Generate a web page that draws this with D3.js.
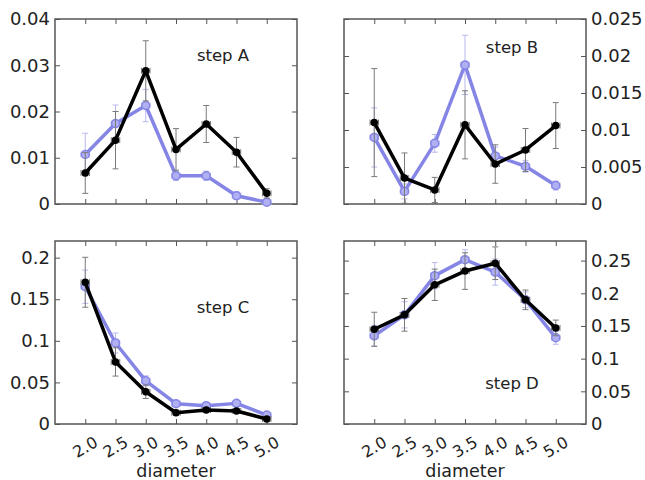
<!DOCTYPE html>
<html><head><meta charset="utf-8">
<script src="https://cdn.jsdelivr.net/npm/d3@7"></script>
<style>body{margin:0;background:#fff}svg{display:block}</style>
</head><body>
<script>
const diameters = [2.0, 2.5, 3.0, 3.5, 4.0, 4.5, 5.0];
const xTickLabels = ["2.0","2.5","3.0","3.5","4.0","4.5","5.0"];

const blackA = [0.0067, 0.0138, 0.0288, 0.0118, 0.0173, 0.0112, 0.0023];
const blackAErr = [0.0044, 0.0062, 0.0065, 0.0045, 0.0040, 0.0032, 0.0010];
const blueA = [0.0107, 0.0174, 0.0213, 0.0061, 0.0061, 0.0018, 0.0004];
const blueAErr = [0.0046, 0.0040, 0.0035, 0.0010, 0.0010, 0.0008, 0.0005];

const blackB = [0.0110, 0.0035, 0.0019, 0.0107, 0.0054, 0.0073, 0.0106];
const blackBErr = [0.0073, 0.0034, 0.0017, 0.0046, 0.0026, 0.0029, 0.0031];
const blueB = [0.0090, 0.0017, 0.0082, 0.0188, 0.0065, 0.0051, 0.0025];
const blueBErr = [0.0040, 0.0010, 0.0012, 0.0040, 0.0012, 0.0008, 0.0006];

const blackC = [0.1704, 0.0746, 0.0387, 0.0136, 0.0168, 0.0156, 0.0060];
const blackCErr = [0.0300, 0.0170, 0.0080, 0.0030, 0.0030, 0.0030, 0.0025];
const blueC = [0.1650, 0.0974, 0.0519, 0.0244, 0.0220, 0.0248, 0.0108];
const blueCErr = [0.0200, 0.0120, 0.0060, 0.0030, 0.0030, 0.0030, 0.0025];

const blackD = [0.145, 0.167, 0.213, 0.234, 0.246, 0.190, 0.147];
const blackDErr = [0.026, 0.025, 0.024, 0.028, 0.025, 0.015, 0.012];
const blueD = [0.135, 0.167, 0.227, 0.2515, 0.2325, 0.190, 0.132];
const blueDErr = [0.016, 0.020, 0.020, 0.015, 0.020, 0.012, 0.010];

const xErr = 0.07;

const ticksA = [0, 0.01, 0.02, 0.03, 0.04];
const ticksB = [0, 0.005, 0.01, 0.015, 0.02, 0.025];
const ticksC = [0, 0.05, 0.1, 0.15, 0.2];
const ticksD = [0, 0.05, 0.1, 0.15, 0.2, 0.25];

const panels = [
  {name:"step A", black:blackA, blackErr:blackAErr, blue:blueA, blueErr:blueAErr, ymax:0.04, ticks:ticksA,
   box:[55,19,297,204], side:"left", label:[223,61], xlabels:false},
  {name:"step B", black:blackB, blackErr:blackBErr, blue:blueB, blueErr:blueBErr, ymax:0.025, ticks:ticksB,
   box:[344,19,586,204], side:"right", label:[512,53], xlabels:false},
  {name:"step C", black:blackC, blackErr:blackCErr, blue:blueC, blueErr:blueCErr, ymax:0.22, ticks:ticksC,
   box:[55,241,297,424], side:"left", label:[223,313], xlabels:true},
  {name:"step D", black:blackD, blackErr:blackDErr, blue:blueD, blueErr:blueDErr, ymax:0.28, ticks:ticksD,
   box:[344,241,586,424], side:"right", label:[512,389], xlabels:true}
];

const W = 645, H = 480;
const svg = d3.select("body").append("svg").attr("width", W).attr("height", H)
  .style("font-family", "'DejaVu Sans', Verdana, sans-serif");

const fmt = v => v === 0 ? "0" : d3.format("~g")(v);
const blueCol = "#8585e6";
const blueFill = "#b0b0f2";
const blueErrCol = "#b8b8ee";
const errCol = "#7a7a7a";
const frameCol = "#555";

panels.forEach(p => {
  const [x0,y0,x1,y1] = p.box;
  const x = d3.scaleLinear().domain([1.5, 5.5]).range([x0, x1]);
  const y = d3.scaleLinear().domain([0, p.ymax]).range([y1, y0]);
  const g = svg.append("g");

  g.append("rect").attr("x", x0).attr("y", y0).attr("width", x1-x0).attr("height", y1-y0)
    .attr("fill","none").attr("stroke", frameCol).attr("stroke-width", 1.5);

  const axB = d3.axisBottom(x).tickValues(diameters).tickSize(-5).tickFormat("");
  const axT = d3.axisTop(x).tickValues(diameters).tickSize(-5).tickFormat("");
  const axL = d3.axisLeft(y).tickValues(p.ticks).tickSize(-5).tickFormat(p.side==="left"?fmt:"");
  const axR = d3.axisRight(y).tickValues(p.ticks).tickSize(-5).tickFormat(p.side==="right"?fmt:"");
  [[axB,`translate(0,${y1})`],[axT,`translate(0,${y0})`],[axL,`translate(${x0},0)`],[axR,`translate(${x1},0)`]]
  .forEach(([ax,tr]) => {
    const a = g.append("g").attr("transform", tr).call(ax);
    a.select(".domain").remove();
    a.selectAll(".tick line").attr("stroke", frameCol).attr("stroke-width", 1);
    a.selectAll(".tick text").attr("font-size", 18).attr("fill", "#222")
      .attr("font-family", "'DejaVu Sans', Verdana, sans-serif");
  });
  g.selectAll(".tick text").each(function(){
    const t = d3.select(this);
    if (p.side==="left") t.attr("x", -5); else t.attr("x", 5);
  });

  if (p.xlabels) {
    g.selectAll(".xl").data(diameters).join("text")
      .attr("transform", d => `translate(${x(d)},${y1+23}) rotate(-30)`)
      .attr("text-anchor","middle").attr("dy","0.35em")
      .attr("font-size", 16).attr("fill","#222")
      .text((d,i) => xTickLabels[i]);
    g.append("text").attr("x", x(3.5)).attr("y", y1+53).attr("text-anchor","middle")
      .attr("font-size", 17.5).attr("fill","#222").text("diameter");
  }

  const drawSeries = (vals, errs, col, ecol, isBlue) => {
    const pts = diameters.map((d,i) => ({d, v: vals[i], e: errs[i]}));
    const eg = g.append("g").attr("stroke", ecol).attr("stroke-width", 1).attr("fill","none");
    pts.forEach(pt => {
      const cx = x(pt.d), cyT = y(pt.v + pt.e), cyB = y(Math.max(0, pt.v - pt.e));
      eg.append("line").attr("x1",cx).attr("x2",cx).attr("y1",cyT).attr("y2",cyB);
      eg.append("line").attr("x1",cx-3).attr("x2",cx+3).attr("y1",cyT).attr("y2",cyT);
      eg.append("line").attr("x1",cx-3).attr("x2",cx+3).attr("y1",cyB).attr("y2",cyB);
      const xl = x(pt.d - xErr), xr = x(pt.d + xErr), cy = y(pt.v);
      eg.append("line").attr("x1",xl).attr("x2",xr).attr("y1",cy).attr("y2",cy);
      eg.append("line").attr("x1",xl).attr("x2",xl).attr("y1",cy-3).attr("y2",cy+3);
      eg.append("line").attr("x1",xr).attr("x2",xr).attr("y1",cy-3).attr("y2",cy+3);
    });
    g.append("path").datum(pts)
      .attr("d", d3.line().x(d => x(d.d)).y(d => y(d.v)))
      .attr("fill","none").attr("stroke", col).attr("stroke-width", 3.5)
      .attr("stroke-linejoin","round");
    g.selectAll(null).data(pts).join("circle")
      .attr("cx", d => x(d.d)).attr("cy", d => y(d.v))
      .attr("r", isBlue ? 4 : 3)
      .attr("fill", isBlue ? blueFill : "#000")
      .attr("stroke", isBlue ? blueCol : "#000").attr("stroke-width", 1.5);
  };

  drawSeries(p.blue, p.blueErr, blueCol, blueErrCol, true);
  drawSeries(p.black, p.blackErr, "#000", errCol, false);

  g.append("text").attr("x", p.label[0]).attr("y", p.label[1]).attr("text-anchor","middle")
    .attr("font-size", 16.5).attr("fill","#222").text(p.name);
});
</script>
</body></html>
